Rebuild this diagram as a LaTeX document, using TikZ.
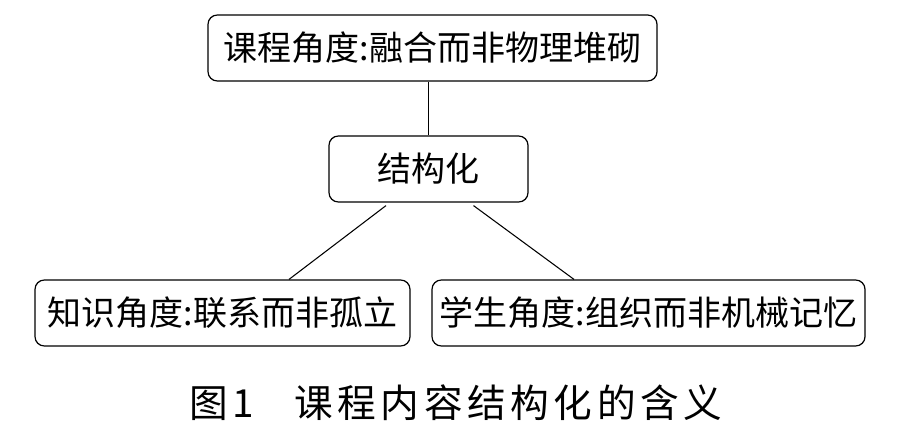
\documentclass[tikz,border=0pt]{standalone}
\usepackage{fontspec}
\newfontfamily\cjk{Noto Sans CJK SC}
\newfontfamily\captcjk[LetterSpace=12]{Noto Sans CJK SC}
\usetikzlibrary{positioning,calc}

\begin{document}
\begin{tikzpicture}[x=0.75pt,y=-0.75pt,
    boxnode/.style={draw, rounded corners=7pt, line width=0.9pt, minimum height=49.5pt, inner xsep=4pt, font=\cjk\fontsize{25.5}{29}\selectfont},
    link/.style={line width=0.8pt}]

        \useasboundingbox[fill=white] (0,0) rectangle (913,441);

        % Top aspect
        \node[boxnode, minimum width=336.75pt] (course) at (432.5,48) {课程角度:融合而非物理堆砌};

        % Centre node
        \node[boxnode, minimum width=149.25pt] (struct) at (428.5,169) {结构化};

        % Lower aspects
        \node[boxnode, minimum width=281.25pt] (knowledge) at (222.5,313) {知识角度:联系而非孤立};
        \node[boxnode, minimum width=324.75pt] (student) at (648.5,313) {学生角度:组织而非机械记忆};

        % Caption
        \node[font=\captcjk\fontsize{29}{32}\selectfont] (caption) at (456,403) {图1\hspace{30pt}课程内容结构化的含义};

        % Connections
        \draw[link] (struct.north) -- (struct.north |- course.south);
        \draw[link] ($(struct.south)+(-42.5,3)$) -- ($(knowledge.north)+(66.5,0)$);
        \draw[link] ($(struct.south)+(45,3)$) -- ($(student.north)+(-74.5,0)$);

    \end{tikzpicture}
\end{document}
